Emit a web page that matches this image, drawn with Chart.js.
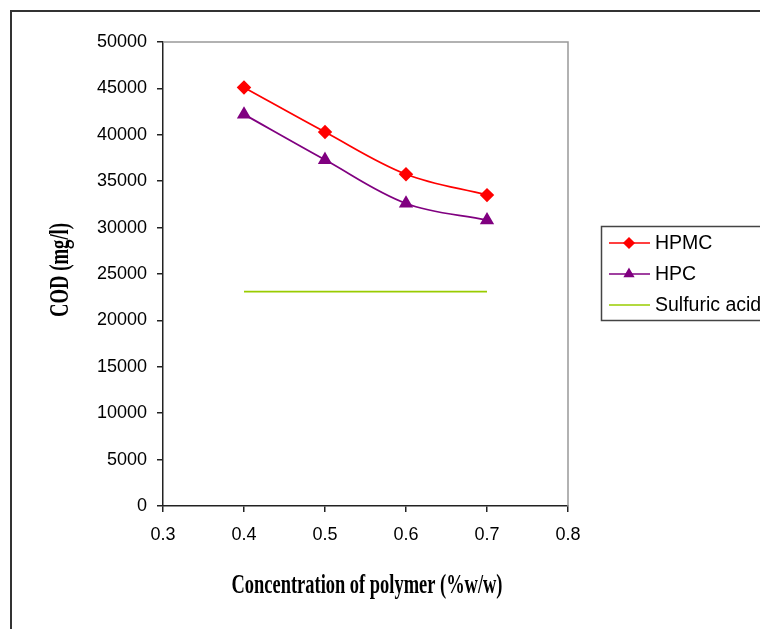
<!DOCTYPE html>
<html>
<head>
<meta charset="utf-8">
<script src="https://cdn.jsdelivr.net/npm/chart.js@4/dist/chart.umd.min.js"></script>
<style>
  html, body { margin: 0; padding: 0; background: #fff; }
  #wrap { width: 760px; height: 629px; }
</style>
</head>
<body>
<div id="wrap"><canvas id="myChart" width="760" height="629"></canvas></div>
<script>
// polymer concentration (% w/w) and measured COD (mg/l)
const concentration = [0.4, 0.5, 0.6, 0.7]
const hpmcCOD = [45100, 40300, 35750, 33500]
const hpcCOD = [42200, 37300, 32600, 30800]
const sulfuricCOD = [23100, 23100, 23100, 23100]

const seriesNames = ['HPMC', 'HPC', 'Sulfuric acid']
const xTitle = 'Concentration of polymer (%w/w)'
const yTitle = 'COD (mg/l)'

const toPoints = (ys) => concentration.map((x, i) => ({ x: x, y: ys[i] }))

// draw a bold serif title squeezed to a given width
const drawTitle = (ctx, text, x, y, width, rotate) => {
  ctx.save()
  ctx.font = 'bold 28px "Liberation Serif", "Times New Roman", serif'
  ctx.fillStyle = '#000'
  ctx.textAlign = 'center'
  ctx.textBaseline = 'alphabetic'
  const w = ctx.measureText(text).width
  ctx.translate(x, y)
  if (rotate) ctx.rotate(-Math.PI / 2)
  ctx.scale(width / w, 1)
  ctx.fillText(text, 0, 0)
  ctx.restore()
}

// outer frame, top/right plot border, axis titles and legend
const decorations = {
  id: 'decorations',
  beforeDraw(chart) {
    const ctx = chart.ctx
    ctx.save()
    ctx.fillStyle = '#fff'
    ctx.fillRect(0, 0, chart.width, chart.height)
    ctx.strokeStyle = '#333'
    ctx.lineWidth = 2
    ctx.beginPath()
    ctx.moveTo(11, chart.height + 2)
    ctx.lineTo(11, 11)
    ctx.lineTo(chart.width + 2, 11)
    ctx.stroke()
    ctx.restore()
  },
  afterDraw(chart) {
    const ctx = chart.ctx
    const a = chart.chartArea
    ctx.save()
    ctx.strokeStyle = '#999'
    ctx.lineWidth = 1.5
    ctx.beginPath()
    ctx.moveTo(a.left, a.top)
    ctx.lineTo(a.right, a.top)
    ctx.lineTo(a.right, a.bottom)
    ctx.stroke()
    ctx.restore()

    drawTitle(ctx, xTitle, 367, 593, 271, false)
    drawTitle(ctx, yTitle, 68, 270, 94, true)

    // legend
    ctx.save()
    ctx.strokeStyle = '#444'
    ctx.lineWidth = 1.5
    ctx.strokeRect(601.5, 226.5, 200, 94)
    ctx.font = '19.5px "Liberation Sans", Arial, sans-serif'
    ctx.textBaseline = 'middle'
    ctx.textAlign = 'left'
    const rows = [243, 274, 305]
    chart.data.datasets.forEach((ds, i) => {
      const y = rows[i]
      ctx.strokeStyle = ds.borderColor
      ctx.lineWidth = 1.5
      ctx.beginPath()
      ctx.moveTo(609, y)
      ctx.lineTo(650, y)
      ctx.stroke()
      if (ds.pointRadius > 0) {
        Chart.helpers.drawPoint(ctx, {
          pointStyle: ds.pointStyle,
          radius: 5,
          borderWidth: 1
        }, 629, y)
        ctx.fillStyle = ds.pointBackgroundColor
        ctx.strokeStyle = ds.pointBorderColor
        ctx.fill()
      }
      ctx.fillStyle = '#000'
      ctx.fillText(ds.label, 655, y + 1)
    })
    ctx.restore()
  }
}

const ctx = document.getElementById('myChart').getContext('2d')
const chart = new Chart(ctx, {
  type: 'line',
  data: {
    datasets: [{
      label: seriesNames[0],
      data: toPoints(hpmcCOD),
      borderColor: '#ff0000',
      backgroundColor: '#ff0000',
      pointBackgroundColor: '#ff0000',
      pointBorderColor: '#ff0000',
      pointStyle: 'rectRot',
      pointRadius: 6,
      borderWidth: 1.75,
      tension: 0.35
    }, {
      label: seriesNames[1],
      data: toPoints(hpcCOD),
      borderColor: '#800080',
      backgroundColor: '#800080',
      pointBackgroundColor: '#800080',
      pointBorderColor: '#800080',
      pointStyle: 'triangle',
      pointRadius: 6.5,
      borderWidth: 1.75,
      tension: 0.35
    }, {
      label: seriesNames[2],
      data: toPoints(sulfuricCOD),
      borderColor: '#99cc00',
      backgroundColor: '#99cc00',
      pointRadius: 0,
      borderWidth: 1.75,
      tension: 0
    }]
  },
  options: {
    responsive: false,
    animation: false,
    layout: { padding: { left: 0, top: 42, right: 192, bottom: 0 } },
    plugins: {
      legend: { display: false },
      tooltip: { enabled: false }
    },
    scales: {
      x: {
        type: 'linear',
        min: 0.3,
        max: 0.8,
        afterFit: (scale) => { scale.height = 123 },
        grid: { drawOnChartArea: false, tickLength: 6, color: '#222', lineWidth: 1.5 },
        border: { color: '#222', width: 1.5 },
        ticks: {
          stepSize: 0.1,
          padding: 12,
          color: '#000',
          font: { family: '"Liberation Sans", Arial, sans-serif', size: 18 },
          callback: (v) => v.toFixed(1)
        }
      },
      y: {
        min: 0,
        max: 50000,
        afterFit: (scale) => { scale.width = 163 },
        grid: { drawOnChartArea: false, tickLength: 6, color: '#222', lineWidth: 1.5 },
        border: { color: '#222', width: 1.5 },
        ticks: {
          stepSize: 5000,
          padding: 10,
          color: '#000',
          font: { family: '"Liberation Sans", Arial, sans-serif', size: 18 },
          callback: (v) => String(v)
        }
      }
    }
  },
  plugins: [decorations]
})
</script>
</body>
</html>
